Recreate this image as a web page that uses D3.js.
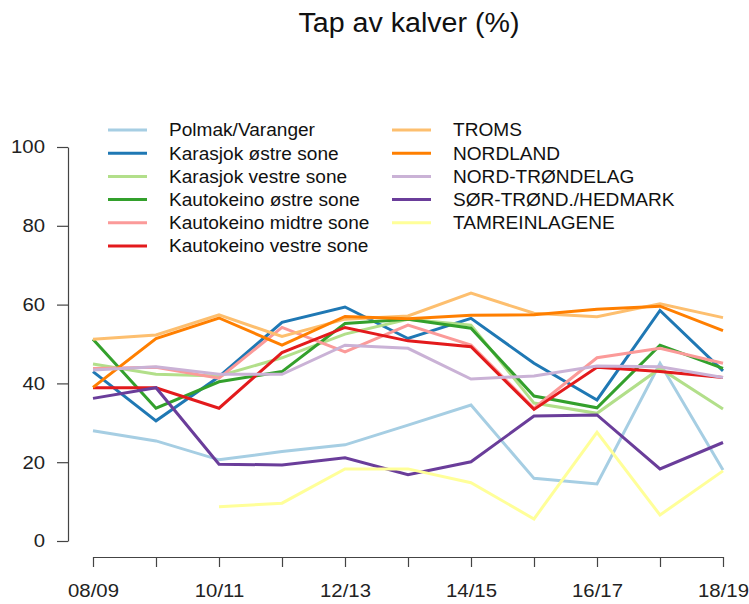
<!DOCTYPE html>
<html>
<head>
<meta charset="utf-8">
<script src="https://cdn.jsdelivr.net/npm/d3@7"></script>
<style>
  body { margin: 0; background: #fff; }
  svg { font-family: "Liberation Sans", Arial, sans-serif; }
</style>
</head>
<body>
<script>
const w = 749;
const h = 604;

// seasons along the x axis
const seasons = ["08/09", "09/10", "10/11", "11/12", "12/13", "13/14", "14/15", "15/16", "16/17", "17/18", "18/19"];
const yTicks = [0, 20, 40, 60, 80, 100];

const names = [
  "Polmak/Varanger",
  "Karasjok østre sone",
  "Karasjok vestre sone",
  "Kautokeino østre sone",
  "Kautokeino midtre sone",
  "Kautokeino vestre sone",
  "TROMS",
  "NORDLAND",
  "NORD-TRØNDELAG",
  "SØR-TRØND./HEDMARK",
  "TAMREINLAGENE",
];

// loss of calves (%) per season
const polmak = [28, 25.4, 20.6, 22.7, 24.4, 29.4, 34.5, 15.9, 14.5, 45.1, 18];
const karasjokOst = [43, 30.5, 41.7, 55.5, 59.4, 51.4, 56.5, 45.1, 35.8, 58.5, 43.2];
const karasjokVest = [44.9, 42.3, 41.9, 46.5, 52.5, 56.3, 54.8, 35, 32.4, 43.8, 33.5];
const kautoOst = [51.2, 33.7, 40.4, 43, 55.2, 56.3, 54, 36.8, 33.8, 49.7, 43.8];
const kautoMidt = [43.8, 44.1, 41.3, 54.2, 48, 54.8, 49.7, 33.7, 46.5, 48.9, 45.1];
const kautoVest = [38.9, 38.9, 33.7, 47.8, 54.2, 50.8, 49.3, 33.4, 44.1, 43, 41.5];
const troms = [51.2, 52.3, 57.4, 51.9, 56.3, 57.1, 62.9, 57.8, 56.9, 60.2, 56.7];
const nordland = [39, 51.4, 56.6, 49.7, 57, 56.4, 57.3, 57.4, 58.8, 59.6, 53.4];
const nordTrondelag = [43.4, 44.2, 42.3, 42.3, 49.7, 48.9, 41.1, 41.9, 44.4, 44.2, 41.5];
const sorTrondHedmark = [36.2, 38.9, 19.5, 19.3, 21.1, 16.8, 20.1, 31.7, 32, 18.3, 25];
const tamrein = [null, null, 8.7, 9.6, 18.3, 18.3, 14.8, 5.6, 27.6, 6.6, 17.8];

const seriesValues = [polmak, karasjokOst, karasjokVest, kautoOst, kautoMidt, kautoVest,
  troms, nordland, nordTrondelag, sorTrondHedmark, tamrein];

const colors = d3.schemePaired;

const series = names.map((name, i) => ({ name: name, values: seriesValues[i], color: colors[i] }));

// scales
const x = d3.scaleLinear().domain([0, seasons.length - 1]).range([93, 723]);
const y = d3.scaleLinear().domain([0, 100]).range([541, 147]);

const svg = d3.select("body").append("svg").attr("width", w).attr("height", h);

// the original text is a bit wider than Liberation Sans
function stretch(sel, s) {
  sel.each(function () {
    const len = this.getComputedTextLength();
    if (len > 0) {
      d3.select(this).attr("textLength", len * s).attr("lengthAdjust", "spacingAndGlyphs");
    }
  });
}

// title
svg.append("text")
  .attr("x", 409)
  .attr("y", 32)
  .attr("text-anchor", "middle")
  .attr("font-size", 27)
  .attr("fill", "#111")
  .text("Tap av kalver (%)")
  .call(stretch, 1.06);

// y axis
const yAxis = svg.append("g")
  .attr("transform", "translate(68,0)")
  .call(d3.axisLeft(y).tickValues(yTicks).tickSize(11).tickSizeOuter(0).tickPadding(12));

// x axis
const xAxis = svg.append("g")
  .attr("transform", "translate(0,557)")
  .call(d3.axisBottom(x)
    .tickValues(d3.range(seasons.length))
    .tickFormat((d) => (d % 2 === 0 ? seasons[d] : ""))
    .tickSize(10).tickSizeOuter(0).tickPadding(17));

[yAxis, xAxis].forEach((ax) => {
  ax.selectAll("path, line").attr("stroke", "#444").attr("stroke-width", 1.2);
  ax.selectAll("text").attr("font-size", 18.5).attr("fill", "#222").attr("font-family", "Liberation Sans, Arial, sans-serif")
    .call(stretch, 1.1);
});

// lines
const line = d3.line()
  .defined((d) => d != null)
  .x((d, i) => x(i))
  .y((d) => y(d));

svg.append("g")
  .selectAll("path")
  .data(series)
  .enter()
  .append("path")
  .attr("d", (d) => line(d.values))
  .attr("fill", "none")
  .attr("stroke", (d) => d.color)
  .attr("stroke-width", 3)
  .attr("stroke-linejoin", "miter");

// legend
const legend = svg.append("g").attr("class", "legend");
const rowH = 23.2;

const item = legend.selectAll("g")
  .data(series)
  .enter()
  .append("g")
  .attr("transform", (d, i) => {
    const col = i < 6 ? 0 : 1;
    const row = i < 6 ? i : i - 6;
    return `translate(${col === 0 ? 108 : 392}, ${130 + row * rowH})`;
  });

item.append("line")
  .attr("x1", 0)
  .attr("x2", 39)
  .attr("y1", 0)
  .attr("y2", 0)
  .attr("stroke", (d) => d.color)
  .attr("stroke-width", 3);

item.append("text")
  .attr("x", 61)
  .attr("y", 0)
  .attr("dy", "0.37em")
  .attr("font-size", 17.5)
  .attr("fill", "#111")
  .text((d) => d.name)
  .call(stretch, 1.09);
</script>
</body>
</html>
